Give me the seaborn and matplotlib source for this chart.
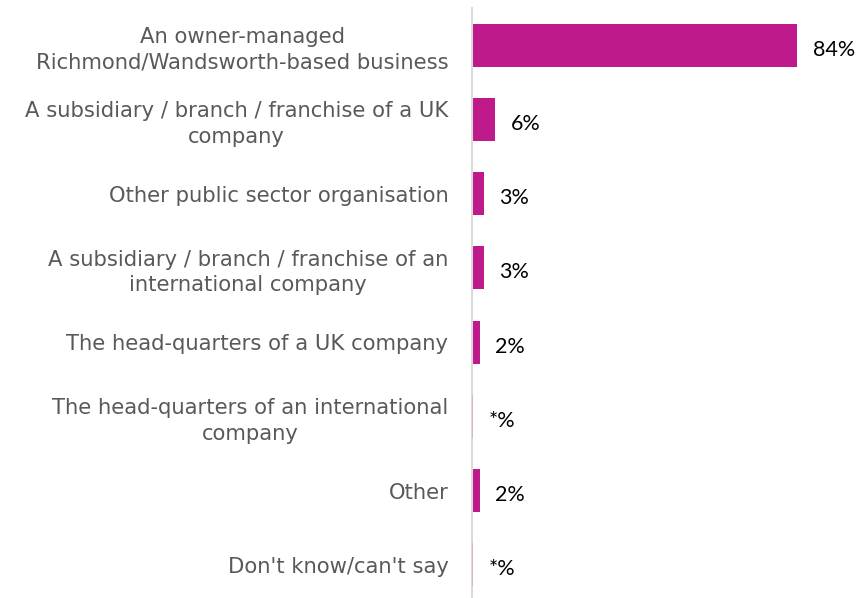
import matplotlib
matplotlib.use("Agg")
import matplotlib.pyplot as plt
import seaborn as sns
import pandas as pd

categories = [
    "An owner-managed\nRichmond/Wandsworth-based business",
    "A subsidiary / branch / franchise of a UK\ncompany",
    "Other public sector organisation",
    "A subsidiary / branch / franchise of an\ninternational company",
    "The head-quarters of a UK company",
    "The head-quarters of an international\ncompany",
    "Other",
    "Don't know/can't say",
]
values = [84, 6, 3, 3, 2, 0.3, 2, 0.3]
labels = ["84%", "6%", "3%", "3%", "2%", "*%", "2%", "*%"]

df = pd.DataFrame({"category": categories, "value": values})

sns.set_theme(style="white")
bar_color = "#BE1A8C"

fig = plt.figure(figsize=(8.6, 5.98), dpi=100)
ax = fig.add_axes([472 / 860, -4 / 598, 387 / 860, 594 / 598])

sns.barplot(data=df, x="value", y="category", color=bar_color, width=0.58,
            saturation=1, ax=ax, orient="h")

for patch, v, lab in zip(ax.patches, values, labels):
    patch.set_edgecolor("none")
    if v < 1:
        # sub-1% answers show as a faint sliver over the axis line
        patch.set_facecolor("#DDB3D2")
        patch.set_zorder(3)
    y = patch.get_y() + patch.get_height() / 2
    ax.text(patch.get_width() + 4.0, y + 0.06, lab, va="center", ha="left",
            fontsize=15.5, color="black", family="Lato")

ax.set_xlim(0, 100)
ax.set_ylim(7.5, -0.5)
ax.set_xlabel("")
ax.set_ylabel("")
ax.set_xticks([])
for s in ["top", "right", "bottom"]:
    ax.spines[s].set_visible(False)
ax.spines["left"].set_color("#D9D9D9")
ax.spines["left"].set_linewidth(1.5)
ax.tick_params(axis="y", length=0, pad=17, labelsize=15.2, labelcolor="#595959")
for t in ax.get_yticklabels():
    t.set_horizontalalignment("right")
    t.set_multialignment("center")
    t.set_linespacing(1.35)

fig.savefig("out.png", dpi=100)
